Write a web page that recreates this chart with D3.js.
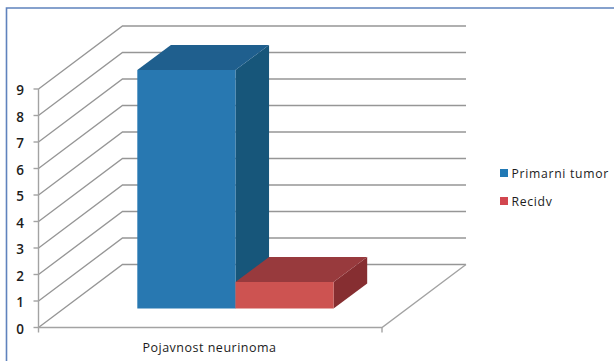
<!DOCTYPE html>
<html>
<head>
<meta charset="utf-8">
<script src="https://cdnjs.cloudflare.com/ajax/libs/d3/7.8.5/d3.min.js"></script>
<style>
  html, body { margin: 0; padding: 0; background: #fff; }
  svg { display: block; }
  text { font-family: "Open Sans", "Noto Sans", sans-serif; fill: #1c1c1c; }
</style>
</head>
<body>
<svg id="chart" width="614" height="361"></svg>
<script>
// Chart content
const categories = ["Pojavnost neurinoma"];
const seriesNames = ["Primarni tumor", "Recidv"];
const primaryValues = [9];
const recurrenceValues = [1];
const yTicks = [0, 1, 2, 3, 4, 5, 6, 7, 8, 9];

const frontColors = ["#2878b1", "#cd5351"];
const topColors = ["#1f5f8e", "#983a3d"];
const sideColors = ["#17567a", "#862e31"];

const svg = d3.select("#chart");

// Oblique 3D box: wall is pushed back by (depthX, depthY) from the front plane
const depthX = 84, depthY = -63;
const y = d3.scaleLinear().domain([0, 9]).range([327.5, 89]);
const x = d3.scaleBand().domain(seriesNames).range([38.5, 382])
  .paddingInner(0).paddingOuter(0.75);
const project = (px, value, depth) => [px + depthX * depth, y(value) + depthY * depth];
const poly = pts => d3.line()(pts) + "Z";

// Outer frame, open toward the bottom and right edges of the page
svg.append("path")
  .attr("d", "M6.5,361V8H614")
  .attr("fill", "none").attr("stroke", "#5f82bd").attr("stroke-width", 1.6);

// Gridlines along the side wall and back wall
const grid = svg.append("g").attr("fill", "none")
  .attr("stroke", "#969696").attr("stroke-width", 1.35);
yTicks.forEach(t => {
  grid.append("path").attr("d", d3.line()([
    project(38.5, t, 0), project(38.5, t, 1), project(382, t, 1)
  ]));
});

// Floor edges and the vertical axis
const axis = svg.append("g").attr("fill", "none")
  .attr("stroke", "#a3a3a3").attr("stroke-width", 1.4);
axis.append("path").attr("d", d3.line()([
  project(38.5, 0, 0), project(382, 0, 0), project(382, 0, 1)
]));
axis.append("path").attr("d", d3.line()([project(38.5, 9, 0), project(38.5, 0, 0)]));
axis.append("path").attr("d", `M382,${y(0)}v5`);
axis.append("path").attr("d", `M38.5,${y(0)}v5`);
yTicks.forEach(t => {
  axis.append("path").attr("d", `M33.5,${y(t)}H38.5`);
});

// Value labels
svg.append("g").selectAll("text").data(yTicks).join("text")
  .attr("x", 20).attr("y", d => y(d) + 1.2)
  .attr("text-anchor", "middle").attr("dominant-baseline", "central")
  .attr("font-size", 13.5).attr("font-weight", 600)
  .text(d => d);

// Bars: each one occupies the middle 40% of the floor depth
const near = 0.3, far = 0.7;
const bars = seriesNames.map((name, i) => ({
  name, i, value: i === 0 ? primaryValues[0] : recurrenceValues[0]
}));
const barGroups = svg.append("g").selectAll("g").data(bars).join("g");
barGroups.each(function (d) {
  const g = d3.select(this);
  const x0 = x(d.name), x1 = x0 + x.bandwidth();
  g.append("path").attr("fill", sideColors[d.i]).attr("d", poly([
    project(x1, 0, near), project(x1, 0, far), project(x1, d.value, far), project(x1, d.value, near)
  ]));
  g.append("path").attr("fill", topColors[d.i]).attr("d", poly([
    project(x0, d.value, near), project(x0, d.value, far), project(x1, d.value, far), project(x1, d.value, near)
  ]));
  g.append("path").attr("fill", frontColors[d.i]).attr("d", poly([
    project(x0, 0, near), project(x0, d.value, near), project(x1, d.value, near), project(x1, 0, near)
  ]));
});

// Category label
svg.append("text").attr("x", 209.5).attr("y", 352)
  .attr("text-anchor", "middle").attr("font-size", 12.5).attr("letter-spacing", 0.5)
  .text(categories[0]);

// Legend
const legendY = [173, 201];
const legend = svg.append("g").selectAll("g").data(seriesNames).join("g")
  .attr("transform", (d, i) => `translate(500,${legendY[i]})`);
legend.append("rect").attr("x", 0).attr("y", -4).attr("width", 8).attr("height", 8)
  .attr("fill", (d, i) => i === 0 ? "#2179b5" : "#d2464f");
legend.append("text").attr("x", 11.5).attr("y", 0)
  .attr("dominant-baseline", "central")
  .attr("font-size", 12.2).attr("letter-spacing", 0.7)
  .text(d => d);
</script>
</body>
</html>
